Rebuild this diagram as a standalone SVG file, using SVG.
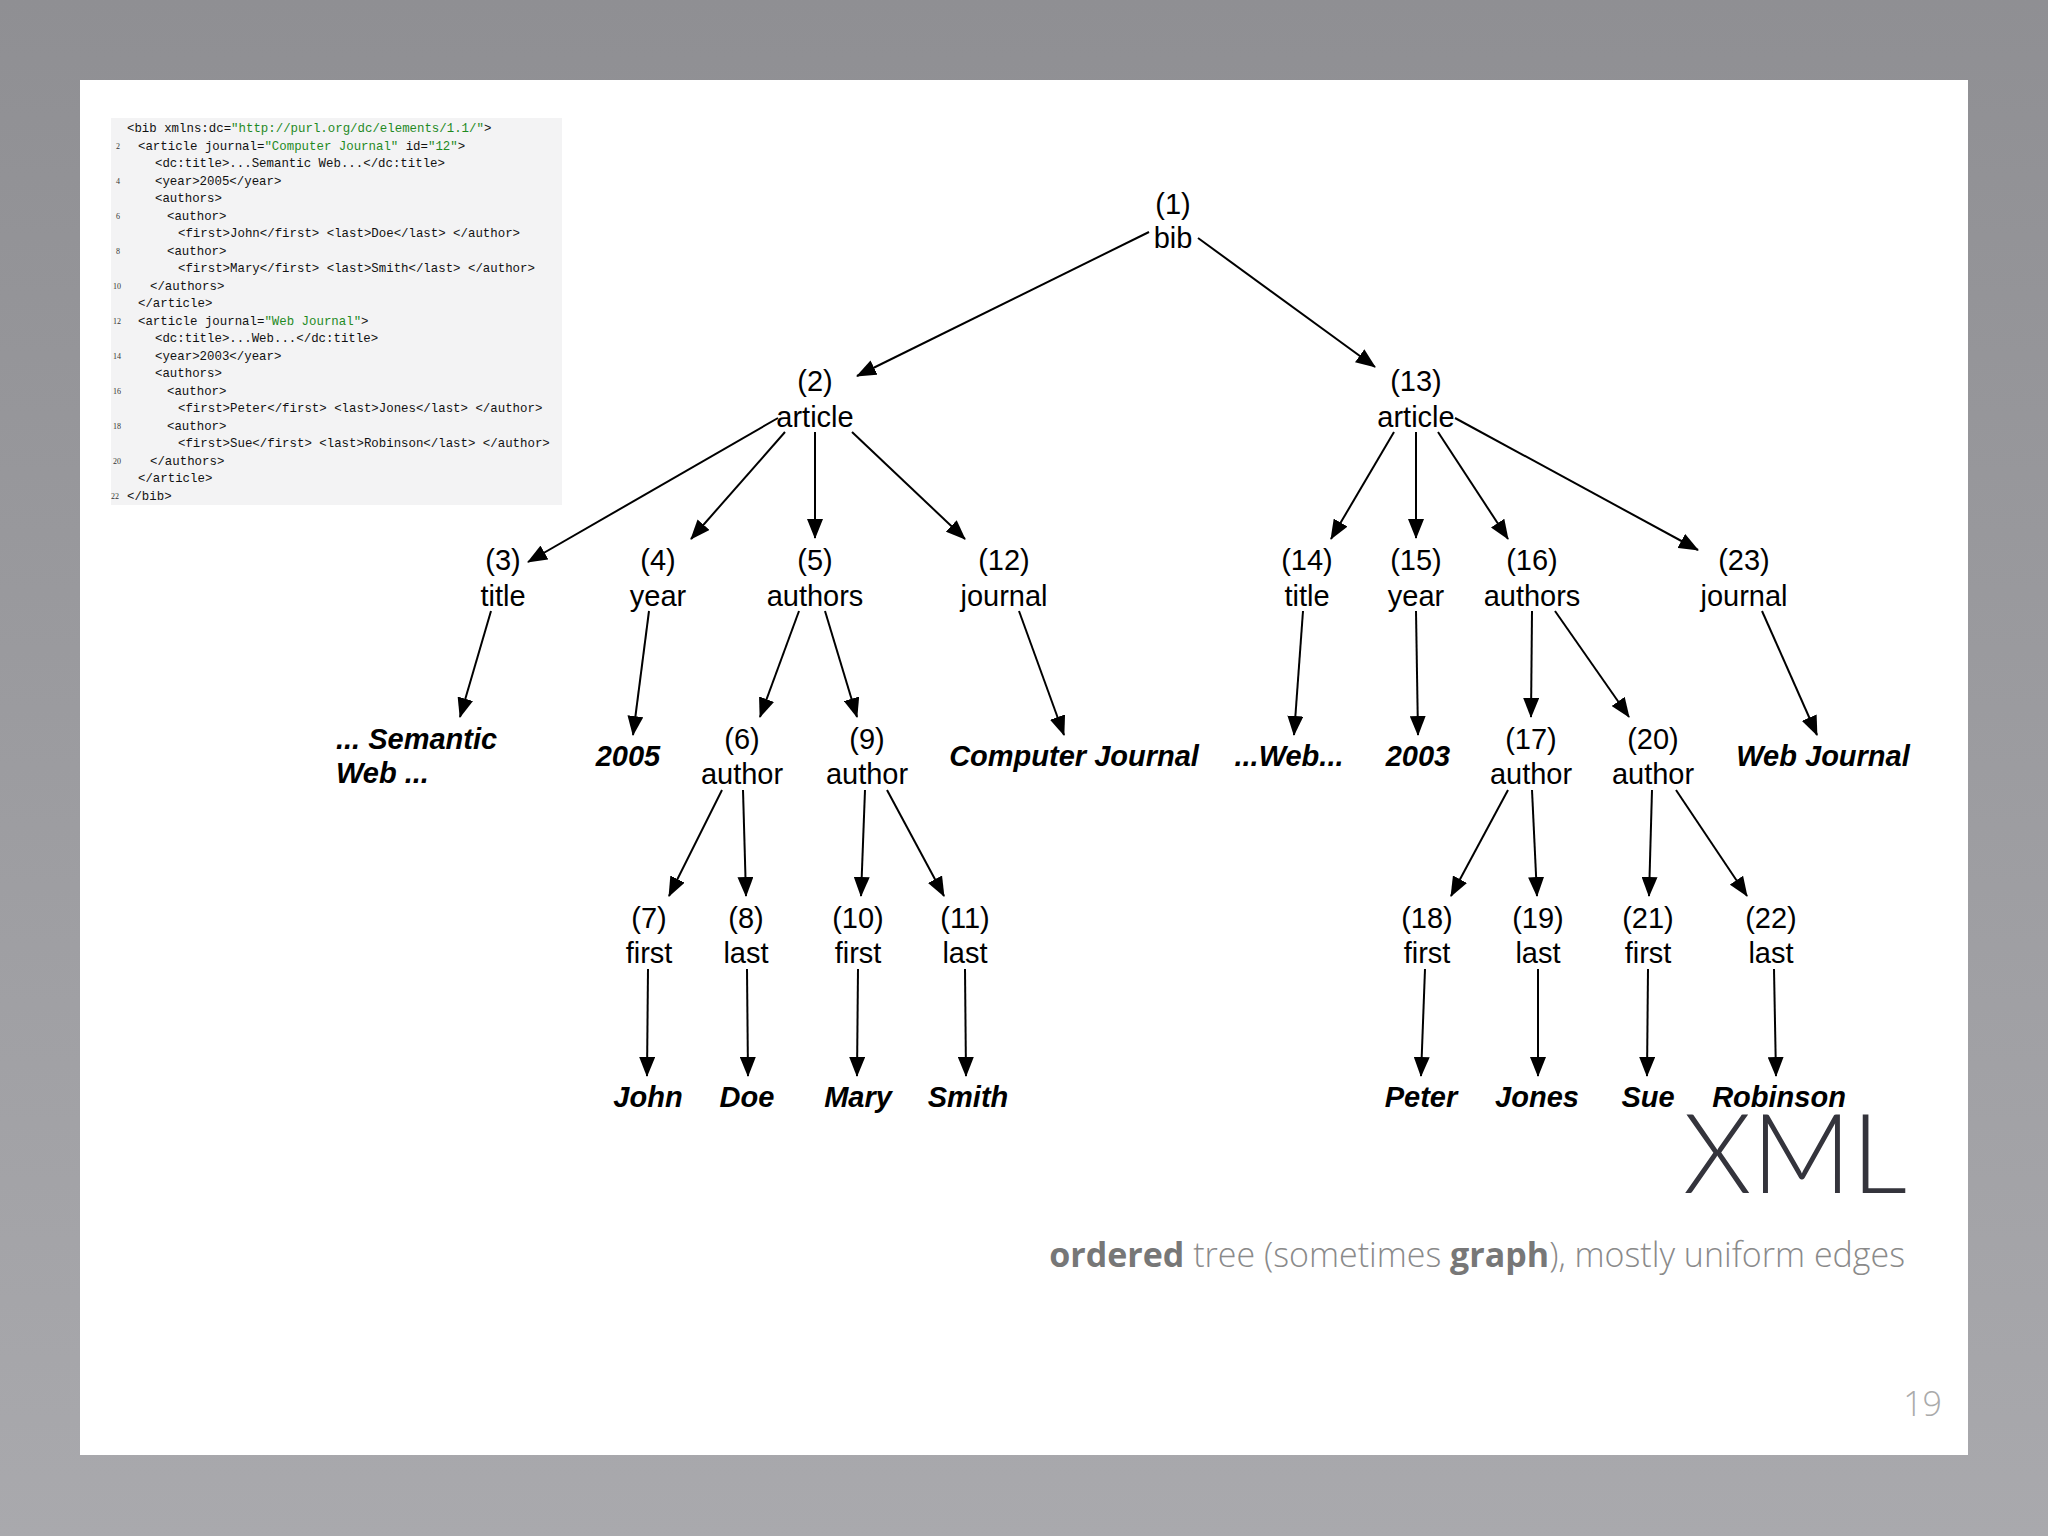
<svg xmlns="http://www.w3.org/2000/svg" width="2048" height="1536" viewBox="0 0 2048 1536">
<defs>
<linearGradient id="bg" x1="0" y1="0" x2="0" y2="1"><stop offset="0" stop-color="#8f8f93"/><stop offset="1" stop-color="#a9a9ad"/></linearGradient>
<marker id="ah" markerUnits="userSpaceOnUse" markerWidth="20" markerHeight="16" refX="19" refY="8" orient="auto"><path d="M0,0 L20,8 L0,16 Z" fill="#000"/></marker>
</defs>
<style>
.n{font-family:"Liberation Sans",Arial,sans-serif;font-size:29px;fill:#000;text-anchor:middle}
.lf{font-family:"Liberation Sans",Arial,sans-serif;font-size:29px;font-weight:bold;font-style:italic;fill:#000;text-anchor:middle}
.c{font-family:"Liberation Mono","DejaVu Sans Mono",monospace;font-size:12.4px;fill:#111}
.g{fill:#1f8a1f}
.ln{font-family:"Liberation Serif",serif;font-size:8px;fill:#333}
#edges line{stroke:#000;stroke-width:2;marker-end:url(#ah)}
</style>
<rect width="2048" height="1536" fill="url(#bg)"/>
<rect x="80" y="80" width="1888" height="1375" fill="#fff"/>
<g id="code">
<rect x="111" y="118" width="451" height="387" fill="#f3f3f4"/>
<text class="c" x="127" y="132">&lt;bib xmlns:dc=<tspan class="g">"http://purl.org/dc/elements/1.1/"</tspan>&gt;</text>
<text class="c" x="138" y="149.5">&lt;article journal=<tspan class="g">"Computer Journal"</tspan> id=<tspan class="g">"12"</tspan>&gt;</text>
<text class="c" x="155" y="167">&lt;dc:title&gt;...Semantic Web...&lt;/dc:title&gt;</text>
<text class="c" x="155" y="184.5">&lt;year&gt;2005&lt;/year&gt;</text>
<text class="c" x="155" y="202">&lt;authors&gt;</text>
<text class="c" x="167" y="219.5">&lt;author&gt;</text>
<text class="c" x="178" y="237">&lt;first&gt;John&lt;/first&gt; &lt;last&gt;Doe&lt;/last&gt; &lt;/author&gt;</text>
<text class="c" x="167" y="254.5">&lt;author&gt;</text>
<text class="c" x="178" y="272">&lt;first&gt;Mary&lt;/first&gt; &lt;last&gt;Smith&lt;/last&gt; &lt;/author&gt;</text>
<text class="c" x="150" y="289.5">&lt;/authors&gt;</text>
<text class="c" x="138" y="307">&lt;/article&gt;</text>
<text class="c" x="138" y="324.5">&lt;article journal=<tspan class="g">"Web Journal"</tspan>&gt;</text>
<text class="c" x="155" y="342">&lt;dc:title&gt;...Web...&lt;/dc:title&gt;</text>
<text class="c" x="155" y="359.5">&lt;year&gt;2003&lt;/year&gt;</text>
<text class="c" x="155" y="377">&lt;authors&gt;</text>
<text class="c" x="167" y="394.5">&lt;author&gt;</text>
<text class="c" x="178" y="412">&lt;first&gt;Peter&lt;/first&gt; &lt;last&gt;Jones&lt;/last&gt; &lt;/author&gt;</text>
<text class="c" x="167" y="429.5">&lt;author&gt;</text>
<text class="c" x="178" y="447">&lt;first&gt;Sue&lt;/first&gt; &lt;last&gt;Robinson&lt;/last&gt; &lt;/author&gt;</text>
<text class="c" x="150" y="464.5">&lt;/authors&gt;</text>
<text class="c" x="138" y="482">&lt;/article&gt;</text>
<text class="c" x="127" y="499.5">&lt;/bib&gt;</text>
<text class="ln" x="116" y="149">2</text><text class="ln" x="116" y="184">4</text><text class="ln" x="116" y="219">6</text><text class="ln" x="116" y="254">8</text>
<text class="ln" x="113" y="289">10</text><text class="ln" x="113" y="324">12</text><text class="ln" x="113" y="359">14</text><text class="ln" x="113" y="394">16</text>
<text class="ln" x="113" y="429">18</text><text class="ln" x="113" y="464">20</text><text class="ln" x="111" y="499">22</text>
</g>
<g id="edges">
<line x1="1149" y1="232" x2="857" y2="376"/>
<line x1="1198" y1="238" x2="1375" y2="367"/>
<line x1="778" y1="418" x2="528" y2="562"/>
<line x1="785" y1="432" x2="691" y2="539"/>
<line x1="815" y1="432" x2="815" y2="538"/>
<line x1="852" y1="432" x2="965" y2="539"/>
<line x1="1394" y1="432" x2="1331" y2="539"/>
<line x1="1416" y1="432" x2="1416" y2="538"/>
<line x1="1438" y1="432" x2="1508" y2="539"/>
<line x1="1455" y1="418" x2="1698" y2="550"/>
<line x1="491" y1="611" x2="460" y2="717"/>
<line x1="649" y1="611" x2="633" y2="735"/>
<line x1="799" y1="611" x2="760" y2="717"/>
<line x1="825" y1="611" x2="857" y2="717"/>
<line x1="1019" y1="611" x2="1064" y2="735"/>
<line x1="1303" y1="611" x2="1294" y2="735"/>
<line x1="1416" y1="611" x2="1418" y2="735"/>
<line x1="1532" y1="611" x2="1531" y2="717"/>
<line x1="1555" y1="611" x2="1629" y2="717"/>
<line x1="1762" y1="611" x2="1817" y2="735"/>
<line x1="722" y1="790" x2="669" y2="896"/>
<line x1="743" y1="790" x2="746" y2="896"/>
<line x1="865" y1="790" x2="861" y2="896"/>
<line x1="887" y1="790" x2="944" y2="896"/>
<line x1="1508" y1="790" x2="1451" y2="896"/>
<line x1="1532" y1="790" x2="1537" y2="896"/>
<line x1="1652" y1="790" x2="1649" y2="896"/>
<line x1="1676" y1="790" x2="1747" y2="896"/>
<line x1="648" y1="969" x2="647" y2="1076"/>
<line x1="747" y1="969" x2="748" y2="1076"/>
<line x1="858" y1="969" x2="857" y2="1076"/>
<line x1="965" y1="969" x2="966" y2="1076"/>
<line x1="1425" y1="969" x2="1421" y2="1076"/>
<line x1="1538" y1="969" x2="1538" y2="1076"/>
<line x1="1648" y1="969" x2="1647" y2="1076"/>
<line x1="1774" y1="969" x2="1776" y2="1076"/>
</g>
<g id="n1"><text class="n" x="1173" y="214">(1)</text><text class="n" x="1173" y="248">bib</text></g>
<g id="n2"><text class="n" x="815" y="391">(2)</text><text class="n" x="815" y="427">article</text></g>
<g id="n13"><text class="n" x="1416" y="391">(13)</text><text class="n" x="1416" y="427">article</text></g>
<g id="n3"><text class="n" x="503" y="570">(3)</text><text class="n" x="503" y="606">title</text></g>
<g id="n4"><text class="n" x="658" y="570">(4)</text><text class="n" x="658" y="606">year</text></g>
<g id="n5"><text class="n" x="815" y="570">(5)</text><text class="n" x="815" y="606">authors</text></g>
<g id="n12"><text class="n" x="1004" y="570">(12)</text><text class="n" x="1004" y="606">journal</text></g>
<g id="n14"><text class="n" x="1307" y="570">(14)</text><text class="n" x="1307" y="606">title</text></g>
<g id="n15"><text class="n" x="1416" y="570">(15)</text><text class="n" x="1416" y="606">year</text></g>
<g id="n16"><text class="n" x="1532" y="570">(16)</text><text class="n" x="1532" y="606">authors</text></g>
<g id="n23"><text class="n" x="1744" y="570">(23)</text><text class="n" x="1744" y="606">journal</text></g>
<g id="v3"><text class="lf" x="336" y="749" text-anchor="start" style="text-anchor:start">... Semantic</text><text class="lf" x="336" y="783" style="text-anchor:start">Web ...</text></g>
<g id="v4"><text class="lf" x="628" y="766">2005</text></g>
<g id="n6"><text class="n" x="742" y="749">(6)</text><text class="n" x="742" y="784">author</text></g>
<g id="n9"><text class="n" x="867" y="749">(9)</text><text class="n" x="867" y="784">author</text></g>
<g id="v12"><text class="lf" x="1074" y="766">Computer Journal</text></g>
<g id="v14"><text class="lf" x="1289" y="766">...Web...</text></g>
<g id="v15"><text class="lf" x="1418" y="766">2003</text></g>
<g id="n17"><text class="n" x="1531" y="749">(17)</text><text class="n" x="1531" y="784">author</text></g>
<g id="n20"><text class="n" x="1653" y="749">(20)</text><text class="n" x="1653" y="784">author</text></g>
<g id="v23"><text class="lf" x="1823" y="766">Web Journal</text></g>
<g id="n7"><text class="n" x="649" y="928">(7)</text><text class="n" x="649" y="963">first</text></g>
<g id="n8"><text class="n" x="746" y="928">(8)</text><text class="n" x="746" y="963">last</text></g>
<g id="n10"><text class="n" x="858" y="928">(10)</text><text class="n" x="858" y="963">first</text></g>
<g id="n11"><text class="n" x="965" y="928">(11)</text><text class="n" x="965" y="963">last</text></g>
<g id="n18"><text class="n" x="1427" y="928">(18)</text><text class="n" x="1427" y="963">first</text></g>
<g id="n19"><text class="n" x="1538" y="928">(19)</text><text class="n" x="1538" y="963">last</text></g>
<g id="n21"><text class="n" x="1648" y="928">(21)</text><text class="n" x="1648" y="963">first</text></g>
<g id="n22"><text class="n" x="1771" y="928">(22)</text><text class="n" x="1771" y="963">last</text></g>
<g id="v7"><text class="lf" x="648" y="1107">John</text></g>
<g id="v8"><text class="lf" x="747" y="1107">Doe</text></g>
<g id="v10"><text class="lf" x="858" y="1107">Mary</text></g>
<g id="v11"><text class="lf" x="968" y="1107">Smith</text></g>
<g id="v18"><text class="lf" x="1421" y="1107">Peter</text></g>
<g id="v19"><text class="lf" x="1537" y="1107">Jones</text></g>
<g id="v21"><text class="lf" x="1648" y="1107">Sue</text></g>
<g id="v22"><text class="lf" x="1779" y="1107">Robinson</text></g>
<text x="1907" y="1193" text-anchor="end" font-family="Lato, 'Open Sans', sans-serif" font-weight="300" font-size="110" fill="#34343c">XML</text>
<text x="1905" y="1267" text-anchor="end" font-family="'Open Sans', 'Liberation Sans', sans-serif" font-weight="300" font-size="34" fill="#8a8a8a"><tspan font-weight="bold" fill="#777">ordered</tspan> tree (sometimes <tspan font-weight="bold" fill="#777">graph</tspan>), mostly uniform edges</text>
<text x="1942" y="1416" text-anchor="end" font-family="'Open Sans', 'Liberation Sans', sans-serif" font-weight="300" font-size="34" fill="#aaa">19</text>
</svg>
